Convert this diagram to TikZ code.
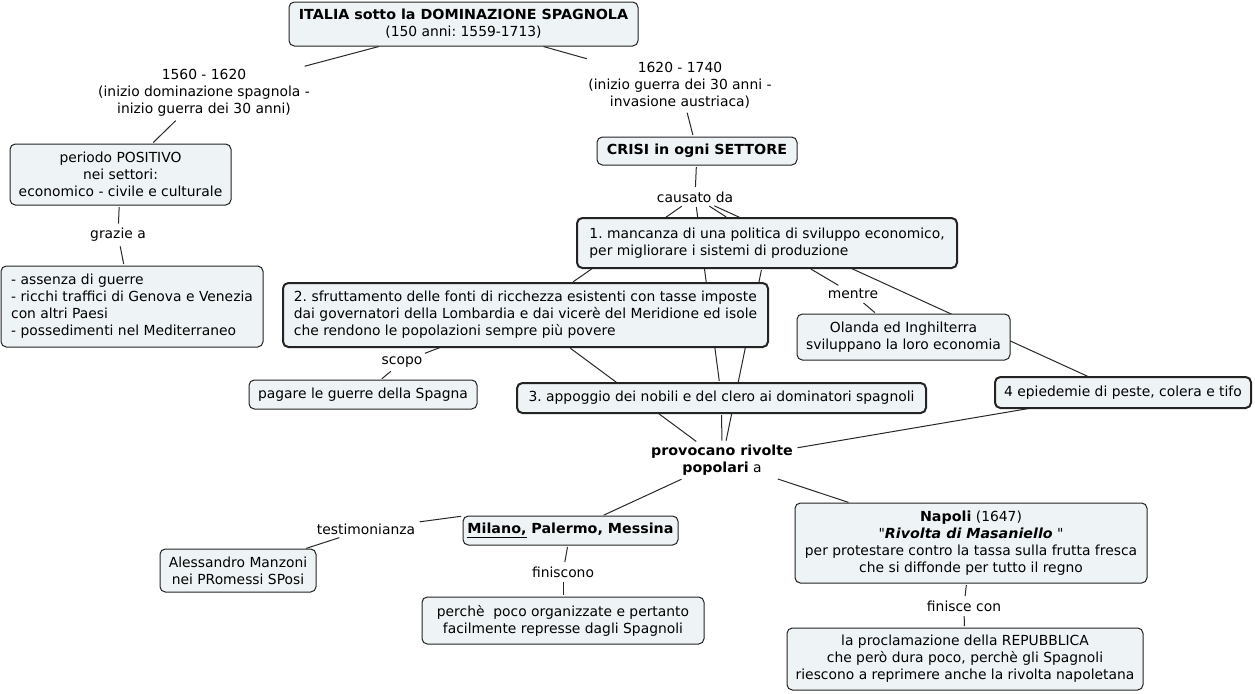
\documentclass[tikz,border=0pt]{standalone}
\usepackage{fontspec}
\setmainfont{DejaVu Sans}[Ligatures=TeXOff,BoldFeatures={FakeStretch=1.03},BoldItalicFeatures={FakeStretch=1.03}]
\usetikzlibrary{calc}
\definecolor{boxfill}{RGB}{238,243,245}
\definecolor{boxline}{RGB}{35,35,35}
\definecolor{linkline}{RGB}{40,40,40}
\pgfdeclarelayer{bg}
\pgfsetlayers{bg,main}
\frenchspacing
\begin{document}
\begin{tikzpicture}[x=0.75pt,y=-0.75pt,
  every node/.style={font=\fontsize{10.4}{12.75}\selectfont, inner sep=0pt, outer sep=0pt},
  concept/.style={draw=boxline, fill=boxfill, rounded corners=4pt, line width=0.75pt, align=center},
  thickc/.style={concept, line width=1.5pt},
  phrase/.style={align=center, inner sep=2pt},
  link/.style={draw=linkline, line width=0.75pt, shorten <=1.5pt, shorten >=1.5pt}
]
\useasboundingbox (0,0) rectangle (1255,693);

\node[concept, minimum width=261.75pt, minimum height=33pt] (top) at (463.5,24) {\textbf{ITALIA sotto la DOMINAZIONE SPAGNOLA}\\(150 anni: 1559-1713)};
\node[phrase] (lp1) at (204,93) {1560 - 1620\\(inizio dominazione spagnola -\\inizio guerra dei 30 anni)};
\node[concept, minimum width=165.75pt, minimum height=45.75pt] (pos) at (120.5,174.5) {periodo POSITIVO\\nei settori:\\economico - civile e culturale};
\node[phrase] (grazie) at (118,235) {grazie a};
\node[concept, minimum width=196.5pt, minimum height=60.75pt, align=left] (ass) at (132,306.5) {- assenza di guerre\\- ricchi traffici di Genova e Venezia\\con altri Paesi\\- possedimenti nel Mediterraneo};

\node[phrase] (lp2) at (680,85) {1620 - 1740\\(inizio guerra dei 30 anni -\\invasione austriaca)};
\node[concept, minimum width=150pt, minimum height=21pt] (crisi) at (697,151) {\textbf{CRISI in ogni SETTORE}};
\node[phrase] (causato) at (695,197) {causato da};
\node[thickc, minimum width=285pt, minimum height=37.5pt, align=left] (b1) at (767,243) {1. mancanza di una politica di sviluppo economico,\\per migliorare i sistemi di produzione};
\node[thickc, minimum width=363.75pt, minimum height=48pt, align=left] (b2) at (525.5,315) {2. sfruttamento delle fonti di ricchezza esistenti con tasse imposte\\dai governatori della Lombardia e dai vicerè del Meridione ed isole\\che rendono le popolazioni sempre più povere};
\node[phrase] (mentre) at (853,294) {mentre};
\node[concept, minimum width=159.75pt, minimum height=34.5pt] (olanda) at (903.5,337) {Olanda ed Inghilterra\\sviluppano la loro economia};
\node[thickc, minimum width=306.75pt, minimum height=22.5pt] (b3) at (721.5,398) {3. appoggio dei nobili e del clero ai dominatori spagnoli};
\node[thickc, minimum width=192pt, minimum height=23.25pt] (b4) at (1123,392.5) {4 epiedemie di peste, colera e tifo};
\node[phrase] (scopo) at (402,362) {scopo};
\node[concept, minimum width=171pt, minimum height=21.75pt] (pagare) at (363,394.5) {pagare le guerre della Spagna};

\node[phrase] (prov) at (722,460.5) {\textbf{provocano rivolte}\\\textbf{popolari} a};
\node[concept, minimum width=161.25pt, minimum height=21.75pt] (milano) at (570.5,530.5) {\textbf{\underline{Milano,} Palermo, Messina}};
\node[phrase] (testim) at (366,529) {testimonianza};
\node[concept, minimum width=117pt, minimum height=32.25pt] (manzoni) at (238,570.5) {Alessandro Manzoni\\nei PRomessi SPosi};
\node[phrase] (finiscono) at (563,572) {finiscono};
\node[concept, minimum width=211.5pt, minimum height=35.25pt] (perche) at (563,620.5) {perchè\ \ poco organizzate e pertanto\\facilmente represse dagli Spagnoli};
\node[concept, minimum width=264pt, minimum height=60pt] (napoli) at (971,543) {\textbf{Napoli} (1647)\\"\textbf{\textit{Rivolta di Masaniello}} "\\per protestare contro la tassa sulla frutta fresca\\che si diffonde per tutto il regno};
\node[phrase] (finisce) at (964,606) {finisce con};
\node[concept, minimum width=267pt, minimum height=46.5pt] (repubb) at (965,659) {la proclamazione della REPUBBLICA\\che però dura poco, perchè gli Spagnoli\\riescono a reprimere anche la rivolta napoletana};

\begin{pgfonlayer}{bg}
\fill[white] (0,0) rectangle (1255,693);
\draw[link] (top) -- (lp1);
\draw[link] (lp1) -- (pos);
\draw[link] (pos) -- (grazie);
\draw[link] (grazie) -- (ass);
\draw[link] (top) -- (lp2);
\draw[link] (lp2) -- (crisi);
\draw[link] (crisi) -- (causato);
\draw[link] (causato) -- (b1);
\draw[link] (causato) -- (b2);
\draw[link] (causato) -- (b3);
\draw[link] (causato) -- (b4);
\draw[link] (b1) -- (mentre);
\draw[link] (mentre) -- (olanda);
\draw[link] (b2) -- (scopo);
\draw[link] (scopo) -- (pagare);
\draw[link] (b1) -- (prov);
\draw[link] (b2) -- (prov);
\draw[link] (b3) -- (prov);
\draw[link] (b4) -- (prov);
\draw[link] (prov) -- (milano);
\draw[link] (prov) -- (napoli);
\draw[link] (testim) -- (milano.north west);
\draw[link] (testim) -- (manzoni);
\draw[link] (milano) -- (finiscono);
\draw[link] (finiscono) -- (perche);
\draw[link] (napoli) -- (finisce);
\draw[link] (finisce) -- (repubb);
\end{pgfonlayer}
\end{tikzpicture}
\end{document}
